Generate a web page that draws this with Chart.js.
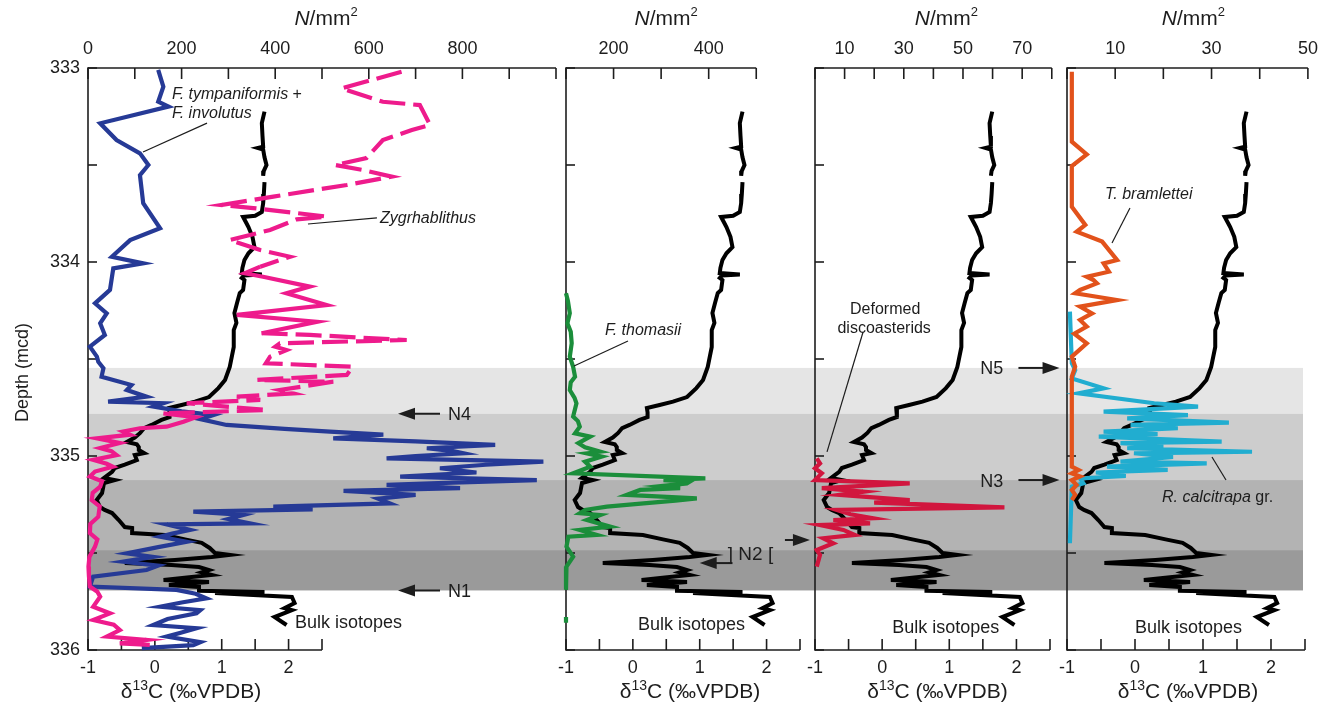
<!DOCTYPE html>
<html>
<head>
<meta charset="utf-8">
<script src="https://cdn.jsdelivr.net/npm/chart.js@4.4.1/dist/chart.umd.min.js"></script>
<style>
  body { margin: 0; background: #fff; }
  #wrap { position: relative; width: 1326px; height: 710px; }
  #wrap canvas { position: absolute; left: 0; top: 0; }
</style>
</head>
<body>
<div id="wrap">
  <canvas id="p1" width="1326" height="710"></canvas>
  <canvas id="p2" width="1326" height="710"></canvas>
  <canvas id="p3" width="1326" height="710"></canvas>
  <canvas id="p4" width="1326" height="710"></canvas>
</div>
<script>
// depth axis (mcd) and d13C axis
var depthTicks = [333, 333.5, 334, 334.5, 335, 335.5, 336];
var d13cTicks = [-1, -0.5, 0, 0.5, 1, 1.5, 2, 2.5];
var d13cLabels = [-1, 0, 1, 2];

// N/mm2 axes of the four panels
var topTicks1 = [0, 100, 200, 300, 400, 500, 600, 700, 800, 900, 1000];
var topLabels1 = [0, 200, 400, 600, 800];
var topTicks2 = [100, 200, 300, 400, 500];
var topLabels2 = [200, 400];
var topTicks3 = [0, 10, 20, 30, 40, 50, 60, 70, 80];
var topLabels3 = [10, 30, 50, 70];
var topTicks4 = [0, 10, 20, 30, 40, 50];
var topLabels4 = [10, 30, 50];

// shaded intervals N5..N1
var bandEdges = [334.546, 334.782, 335.124, 335.485, 335.693];
var bandGreys = ['#e5e5e5', '#cdcdcd', '#b3b3b3', '#9a9a9a'];

// bulk carbonate isotopes (null = gap in the record)
var bulkDepth = [333.225, 333.284, 333.35, 333.405, 333.412, 333.42, 333.46, 333.5, 333.53, 333.555, 333.57,
  333.588, 333.65, 333.696, 333.742, 333.762, 333.768, 333.8, 333.82, 333.87, 333.923, 333.955, 333.99,
  334.03, 334.057, 334.065, 334.07, 334.082, 334.093, 334.144, 334.16, 334.21, 334.263, 334.314, 334.351,
  334.438, 334.541, 334.608, 334.65, 334.696, 334.72, 334.737, 334.753, 334.775, 334.799, 334.814, 334.84,
  334.856, 334.881, 334.905, 334.928, 334.94, 334.954, 334.969, 334.985, 334.995, 335.021, 335.045, 335.062,
  335.082, 335.113, 335.124, 335.139, 335.191, 335.227, 335.263, 335.278, 335.294, 335.33, 335.366, 335.371,
  335.397, 335.407, 335.43, 335.448, 335.474, 335.5, 335.51, 335.521, 335.536, 335.552, 335.562, 335.572,
  335.588, 335.6, 335.613, 335.624, 335.639, 335.645, 335.649, 335.665, 335.675, 335.695, 335.701, 335.706,
  335.715, 335.727, 335.758, 335.784, 335.794, 335.83, 335.871];
var bulkD13C = [1.64, 1.60, 1.61, 1.62, 1.54, 1.62, 1.64, 1.67, 1.63, 1.62, null,
  1.64, 1.63, 1.62, 1.60, 1.50, 1.32, 1.37, 1.40, 1.46, 1.49, 1.40, 1.34,
  1.31, 1.30, 1.60, 1.33, 1.30, 1.34, 1.32, 1.27, 1.23, 1.19, 1.22, 1.18,
  1.18, 1.12, 1.05, 0.95, 0.81, 0.60, 0.40, 0.21, 0.22, 0.22, 0.10, -0.05,
  -0.16, -0.22, -0.30, -0.42, -0.27, -0.24, -0.24, -0.16, -0.30, -0.27, -0.45, -0.60,
  -0.64, -0.76, -0.60, -0.76, -0.79, -0.87, -0.82, -0.75, -0.64, -0.54, -0.45, -0.34,
  -0.34, 0.15, 0.45, 0.70, 0.82, 0.90, 1.12, 0.85, 0.30, -0.45, 0.25, 0.66,
  0.81, 0.70, 0.85, 0.55, 0.13, 0.60, 0.81, 0.21, 0.66, 0.66, 1.64, 0.90,
  1.40, 2.05, 2.09, 1.94, 2.05, 1.79, 1.97];

// F. tympaniformis + F. involutus (N/mm2)
var tympDepth = [333.01, 333.096, 333.174, 333.199, 333.285, 333.371, 333.44, 333.5, 333.552, 333.697, 333.826,
  333.887, 333.973, 334.007, 334.033, 334.144, 334.213, 334.265, 334.316, 334.376, 334.436, 334.488, 334.514,
  334.548, 334.591, 334.634, 334.66, 334.694, 334.72, 334.728, 334.745, 334.77, 334.789, 334.81, 334.84,
  334.86, 334.874, 334.89, 334.909, 334.925, 334.943, 334.96, 334.975, 334.986, 335.0, 335.012, 335.029,
  335.045, 335.063, 335.085, 335.106, 335.124, 335.137, 335.149, 335.166, 335.18, 335.2, 335.22, 335.244,
  335.261, 335.275, 335.287, 335.304, 335.325, 335.347, 335.352, 335.381, 335.4, 335.416, 335.442, 335.47,
  335.502, 335.52, 335.545, 335.565, 335.588, 335.622, 335.673, 335.69, 335.71, 335.734, 335.755, 335.777,
  335.795, 335.811, 335.84, 335.871, 335.888, 335.91, 335.931, 335.96, 335.975, 335.99];
var tympCount = [150, 161, 150, 172, 26, 61, 111, 129, 111, 118, 154,
  90, 51, 118, 54, 47, 15, 40, 26, 36, 4, 19, 22,
  33, 29, 93, 83, 125, 43, 161, 140, 200, 268, 240, 296,
  420, 517, 631, 524, 700, 870, 724, 780, 802, 700, 638, 973,
  850, 752, 830, 667, 959, 780, 638, 795, 546, 700, 620, 645,
  396, 480, 225, 332, 300, 346, 168, 218, 180, 154, 211, 150,
  83, 139, 75, 150, 125, 11, 4, 189, 230, 253, 200, 154,
  240, 232, 170, 139, 232, 200, 168, 240, 225, 115];

// Zygrhablithus (N/mm2)
var zygDepth = [333.019, 333.105, 333.174, 333.191, 333.294, 333.32, 333.371, 333.464, 333.5, 333.526, 333.56,
  333.603, 333.663, 333.706, 333.722, 333.748, 333.766, 333.78, 333.835, 333.887, 333.938, 333.973, 334.024,
  334.058, 334.076, 334.127, 334.161, 334.222, 334.273, 334.308, 334.367, 334.376, 334.402, 334.419, 334.437,
  334.454, 334.488, 334.522, 334.54, 334.582, 334.608, 334.617, 334.66, 334.677, 334.694, 334.711, 334.728,
  334.763, 334.78, 334.8, 334.823, 334.849, 334.857, 334.874, 334.89, 334.909, 334.933, 334.959, 334.975,
  334.995, 335.02, 335.04, 335.055, 335.08, 335.106, 335.13, 335.158, 335.19, 335.227, 335.26, 335.313,
  335.35, 335.397, 335.43, 335.467, 335.52, 335.57, 335.62, 335.673, 335.7, 335.725, 335.777, 335.811,
  335.845, 335.87, 335.897, 335.931, 335.948, 335.966, 335.974];
var zygCount = [670, 542, 630, 709, 731, 692, 630, 595, 528, 588, 649,
  553, 396, 286, 353, 446, 510, 446, 389, 303, 368, 432, 368,
  335, 374, 474, 424, 510, 318, 489, 371, 474, 681, 410, 400,
  424, 389, 380, 566, 553, 361, 524, 410, 438, 318, 368, 211,
  382, 161, 230, 204, 168, 111, 75, 90, 19, 68, 26, 50,
  61, 11, 40, 53, 15, 4, 30, 26, 10, 8, 25, 22,
  5, 4, 20, 15, 3, 1, 2, 4, 20, 26, 11, 47,
  11, 55, 68, 40, 125, 68, 132];

// F. thomasii (N/mm2)
var thomDepth = [334.161, 334.2, 334.264, 334.316, 334.36, 334.419, 334.488, 334.54, 334.591, 334.62, 334.66,
  334.7, 334.728, 334.797, 334.82, 334.849, 334.883, 334.9, 334.934, 334.955, 334.978, 334.986, 335.003,
  335.029, 335.055, 335.089, 335.115, 335.124, 335.132, 335.141, 335.155, 335.166, 335.175, 335.2, 335.218,
  335.23, 335.244, 335.261, 335.278, 335.295, 335.304, 335.33, 335.364, 335.381, 335.407, 335.416, 335.467,
  335.519, 335.57, 335.69, 335.76, 335.83, 335.86];
var thomCount = [100, 104, 108, 103, 110, 112, 108, 115, 119, 110, 108,
  118, 122, 115, 125, 129, 119, 151, 126, 140, 172, 144, 175,
  140, 151, 115, 393, 305, 360, 354, 300, 340, 256, 228, 375,
  330, 263, 186, 140, 129, 172, 144, 193, 129, 165, 105, 101,
  115, 101, 100, null, 100, 100];

// deformed discoasterids (N/mm2)
var deformDepth = [335.012, 335.038, 335.063, 335.089, 335.124, 335.141, 335.166, 335.184, 335.2, 335.227, 335.24,
  335.265, 335.278, 335.3, 335.321, 335.33, 335.347, 335.356, 335.381, 335.407, 335.424, 335.45, 335.485,
  335.51, 335.57];
var deformCount = [0.6, 1.7, 0, 2.3, 0, 32, 2.3, 16.3, 8.4, 32, 20,
  64, 7.3, 12, 19.7, 6.2, 18.6, 1.7, 9.6, 13.5, 2.8, 6.2, 0.6,
  1.7, 0.6];

// T. bramlettei (N/mm2)
var bramDepth = [333.019, 333.38, 333.445, 333.505, 333.715, 333.809, 333.844, 333.895, 333.99, 334.007, 334.05,
  334.076, 334.093, 334.11, 334.144, 334.161, 334.196, 334.23, 334.265, 334.299, 334.333, 334.37, 334.419,
  334.488, 334.54, 334.591, 335.055, 335.072, 335.09, 335.105, 335.124, 335.149, 335.175, 335.2, 335.227];
var bramCount = [1, 1, 4.1, 1, 1, 3.8, 2, 7.3, 10.4, 7.6, 8.7,
  4.1, 5.5, 6.2, 2.7, 1.7, 10.4, 2.7, 5.2, 2.7, 4.1, 1.5, 4.1,
  1, 1.7, 1, 1, 2.4, 1, 2.7, 1, 2.0, 1, 1.7, 1];

// R. calcitrapa gr. (N/mm2)
var calcDepth = [334.256, 334.522, 334.557, 334.6, 334.651, 334.677, 334.728, 334.745, 334.771, 334.789, 334.806,
  334.828, 334.84, 334.857, 334.874, 334.887, 334.9, 334.926, 334.934, 334.945, 334.96, 334.978, 334.986,
  335.005, 335.029, 335.038, 335.055, 335.072, 335.085, 335.103, 335.115, 335.141, 335.158, 335.45];
var calcCount = [0.6, 1, 1.7, 1, 7.6, 2.4, 18.1, 27.2, 7.6, 25.1, 12.5,
  33.6, 13.2, 23, 7.6, 18.8, 6.6, 32.1, 11.1, 20, 12.5, 38.4, 13.9,
  22, 11.1, 29, 8.3, 20.9, 6, 12.2, 2.7, 3.4, 1, 0.6];

var FONT = '"Liberation Sans", Arial, Helvetica, sans-serif';
var INK = '#1d1d1d';
var AXIS_BAND = 36;   // room kept for the tick labels above and below the plot

function pts(depths, vals) {
  return depths.map(function (d, i) { return { x: vals[i], y: d }; });
}
function fnt(size, italic) { return (italic ? 'italic ' : '') + size + 'px ' + FONT; }

// parts: [text, size, italic, rise]
function rich(ctx, x, y, parts, align) {
  var w = 0;
  parts.forEach(function (p) { ctx.font = fnt(p[1], p[2]); w += ctx.measureText(p[0]).width; });
  var cx = align === 'center' ? x - w / 2 : (align === 'right' ? x - w : x);
  ctx.textAlign = 'left';
  ctx.textBaseline = 'alphabetic';
  parts.forEach(function (p) {
    ctx.font = fnt(p[1], p[2]);
    ctx.fillText(p[0], cx, y - (p[3] || 0));
    cx += ctx.measureText(p[0]).width;
  });
}
function seg(ctx, x0, y0, x1, y1) {
  ctx.beginPath(); ctx.moveTo(x0, y0); ctx.lineTo(x1, y1); ctx.stroke();
}
function arrow(ctx, x0, y, x1) {
  var dir = x1 > x0 ? 1 : -1;
  ctx.lineWidth = 2;
  seg(ctx, x0, y, x1 - dir * 10, y);
  ctx.beginPath();
  ctx.moveTo(x1, y); ctx.lineTo(x1 - dir * 17, y - 6); ctx.lineTo(x1 - dir * 17, y + 6);
  ctx.closePath(); ctx.fill();
}

var panelDecor = {
  id: 'panelDecor',
  beforeDatasetsDraw: function (chart, args, o) {
    var ctx = chart.ctx, a = chart.chartArea;
    var sx = chart.scales.x, st = chart.scales.xTop, sy = chart.scales.y;
    ctx.save();
    if (o.bandRight) {
      for (var i = 0; i < bandGreys.length; i++) {
        var y0 = sy.getPixelForValue(bandEdges[i]), y1 = sy.getPixelForValue(bandEdges[i + 1]);
        ctx.fillStyle = bandGreys[i];
        ctx.fillRect(a.left, y0, o.bandRight - a.left, y1 - y0);
      }
    }
    ctx.strokeStyle = INK;
    ctx.lineWidth = 1.6;
    var topEnd = st.getPixelForValue(st.ticks[st.ticks.length - 1].value);
    var botEnd = sx.getPixelForValue(sx.ticks[sx.ticks.length - 1].value);
    seg(ctx, a.left, a.top - 0.8, a.left, a.bottom + 0.8);
    seg(ctx, a.left, a.top, topEnd, a.top);
    seg(ctx, a.left, a.bottom, botEnd, a.bottom);
    sy.ticks.forEach(function (t) { var p = sy.getPixelForValue(t.value); seg(ctx, a.left, p, a.left + 9, p); });
    st.ticks.forEach(function (t) { var p = st.getPixelForValue(t.value); seg(ctx, p, a.top, p, a.top + 11); });
    sx.ticks.forEach(function (t) { var p = sx.getPixelForValue(t.value); seg(ctx, p, a.bottom, p, a.bottom - 11); });
    ctx.restore();
  },
  afterDraw: function (chart, args, o) {
    var ctx = chart.ctx, a = chart.chartArea;
    var sx = chart.scales.x, st = chart.scales.xTop, sy = chart.scales.y;
    ctx.save();
    ctx.fillStyle = INK;
    ctx.strokeStyle = INK;
    var topEnd = st.getPixelForValue(st.ticks[st.ticks.length - 1].value);
    var botEnd = sx.getPixelForValue(sx.ticks[sx.ticks.length - 1].value);
    rich(ctx, (a.left + topEnd) / 2 + o.topShift, 25,
      [['N', 21, true], ['/mm', 21, false], ['2', 13, false, 9]], 'center');
    rich(ctx, (a.left + botEnd) / 2 + o.botShift, 698,
      [['\u03b4', 21, false], ['13', 14, false, 8], ['C (\u2030VPDB)', 21, false]], 'center');
    if (o.depthTitle) {
      ctx.translate(28, sy.getPixelForValue(334.57));
      ctx.rotate(-Math.PI / 2);
      rich(ctx, 0, 0, [['Depth (mcd)', 18, false]], 'center');
      ctx.setTransform(1, 0, 0, 1, 0, 0);
    }
    (o.notes || []).forEach(function (n) {
      var px = sx.getPixelForValue(n.x), py = sy.getPixelForValue(n.y);
      if (n.text) {
        rich(ctx, px, py + n.text[0][1] * 0.36, n.text, n.align || 'left');
      } else if (n.to) {
        ctx.lineWidth = 1.2;
        seg(ctx, px, py, sx.getPixelForValue(n.to[0]), sy.getPixelForValue(n.to[1]));
      } else if (n.arrowTo !== undefined) {
        arrow(ctx, px, py, sx.getPixelForValue(n.arrowTo));
      }
    });
    ctx.restore();
  }
};

function makePanel(id, cfg) {
  var tickFont = { family: FONT, size: 18 };
  var yWidth = cfg.depthLabels ? 44 : 0;
  return new Chart(document.getElementById(id), {
    type: 'line',
    data: { datasets: cfg.datasets },
    plugins: [panelDecor],
    options: {
      responsive: false,
      animation: false,
      devicePixelRatio: 1,
      layout: { padding: { left: cfg.left - yWidth, right: 1326 - cfg.right, top: 68 - AXIS_BAND, bottom: 60 - AXIS_BAND } },
      elements: {
        point: { radius: 0, hoverRadius: 0 },
        line: { tension: 0, borderCapStyle: 'butt', borderJoinStyle: 'miter' }
      },
      plugins: {
        legend: { display: false },
        tooltip: { enabled: false },
        panelDecor: {
          bandRight: cfg.bandRight, notes: cfg.notes, depthTitle: cfg.depthLabels,
          topShift: cfg.topShift, botShift: cfg.botShift
        }
      },
      scales: {
        y: {
          type: 'linear', position: 'left', reverse: true, min: 333, max: 336,
          grid: { display: false, drawTicks: false }, border: { display: false },
          afterBuildTicks: function (s) { s.ticks = depthTicks.map(function (v) { return { value: v }; }); },
          afterFit: function (s) { s.width = yWidth; s.paddingTop = 0; s.paddingBottom = 0; },
          ticks: {
            autoSkip: false, padding: 8, color: INK, font: tickFont,
            callback: function (v) { return cfg.depthLabels && Number.isInteger(v) ? String(v) : ''; }
          }
        },
        x: {
          type: 'linear', position: 'bottom', min: -1, max: cfg.xMax,
          grid: { display: false, drawTicks: false }, border: { display: false },
          afterBuildTicks: function (s) { s.ticks = d13cTicks.map(function (v) { return { value: v }; }); },
          afterFit: function (s) { s.height = AXIS_BAND; s.paddingLeft = 0; s.paddingRight = 0; },
          ticks: {
            autoSkip: false, maxRotation: 0, padding: 7, color: INK, font: tickFont,
            callback: function (v) { return d13cLabels.indexOf(v) >= 0 ? String(v) : ''; }
          }
        },
        xTop: {
          type: 'linear', position: 'top', min: cfg.topMin, max: cfg.topMax,
          grid: { display: false, drawTicks: false }, border: { display: false },
          afterBuildTicks: function (s) { s.ticks = cfg.topTicks.map(function (v) { return { value: v }; }); },
          afterFit: function (s) { s.height = AXIS_BAND; s.paddingLeft = 0; s.paddingRight = 0; },
          ticks: {
            autoSkip: false, maxRotation: 0, padding: 8, color: INK, font: tickFont,
            callback: function (v) { return cfg.topLabels.indexOf(v) >= 0 ? String(v) : ''; }
          }
        }
      }
    }
  });
}

function bulkSet() {
  return { data: pts(bulkDepth, bulkD13C), xAxisID: 'x', borderColor: '#000', borderWidth: 4,
    spanGaps: false, clip: false, order: 10 };
}
function countSet(d, v, colour, extra) {
  var s = { data: pts(d, v), xAxisID: 'xTop', borderColor: colour, borderWidth: 4.2,
    spanGaps: false, clip: false, order: 1 };
  return Object.assign(s, extra || {});
}

// Zygrhablithus is dashed through the upper part of the section
function zygDash(c) {
  var d = c.p0.parsed.y;
  return (d < 333.99 || (d >= 334.36 && d < 334.78)) ? [26, 8] : undefined;
}

var bulkNote = function (x, y) { return { x: x, y: y, text: [['Bulk isotopes', 18, false]] }; };

makePanel('p1', {
  left: 88, right: 556, xMax: 6, topMin: 0, topMax: 1000,
  topTicks: topTicks1, topLabels: topLabels1, depthLabels: true,
  bandRight: 1303, topShift: 4, botShift: -14,
  datasets: [
    bulkSet(),
    countSet(tympDepth, tympCount, '#263a96', { order: 2 }),
    countSet(zygDepth, zygCount, '#ee1b8c', { order: 1, segment: { borderDash: zygDash } })
  ],
  notes: [
    { x: 0.256, y: 333.129, text: [['F. tympaniformis', 16, true], [' +', 16, false]] },
    { x: 0.256, y: 333.227, text: [['F. involutus', 16, true]] },
    { x: 0.78, y: 333.284, to: [-0.177, 333.433] },
    { x: 3.367, y: 333.768, text: [['Zygrhablithus', 16, true]] },
    { x: 3.322, y: 333.773, to: [2.29, 333.804] },
    { x: 4.265, y: 334.782, arrowTo: 3.637 },
    { x: 4.385, y: 334.782, text: [['N4', 18, false]] },
    { x: 4.265, y: 335.693, arrowTo: 3.637 },
    { x: 4.385, y: 335.693, text: [['N1', 18, false]] },
    bulkNote(2.096, 335.851)
  ]
});

makePanel('p2', {
  left: 566, right: 800, xMax: 2.5, topMin: 100, topMax: 592,
  topTicks: topTicks2, topLabels: topLabels2, depthLabels: false,
  topShift: 5, botShift: 7,
  datasets: [bulkSet(), countSet(thomDepth, thomCount, '#1b8e3b')],
  notes: [
    { x: -0.417, y: 334.345, text: [['F. thomasii', 16, true]] },
    { x: -0.073, y: 334.407, to: [-0.88, 334.536] },
    { x: 1.42, y: 335.5, text: [['] N2 [', 19, false]] },
    { x: 1.49, y: 335.552, arrowTo: 1.0 },
    bulkNote(0.077, 335.861)
  ]
});

makePanel('p3', {
  left: 815, right: 1050, xMax: 2.5, topMin: 0, topMax: 79.4,
  topTicks: topTicks3, topLabels: topLabels3, depthLabels: false,
  topShift: 13, botShift: 5,
  datasets: [bulkSet(), countSet(deformDepth, deformCount, '#d1163e')],
  notes: [
    { x: 0.045, y: 334.237, text: [['Deformed', 16, false]], align: 'center' },
    { x: 0.03, y: 334.335, text: [['discoasterids', 16, false]], align: 'center' },
    { x: -0.284, y: 334.361, to: [-0.821, 334.979] },
    { x: 1.463, y: 334.546, text: [['N5', 18, false]] },
    { x: 2.03, y: 334.546, arrowTo: 2.642 },
    { x: 1.463, y: 335.124, text: [['N3', 18, false]] },
    { x: 2.03, y: 335.124, arrowTo: 2.642 },
    { x: -1.448, y: 335.433, arrowTo: -1.075 },
    bulkNote(0.149, 335.881)
  ]
});

makePanel('p4', {
  left: 1067, right: 1305, xMax: 2.5, topMin: 0, topMax: 49.4,
  topTicks: topTicks4, topLabels: topLabels4, depthLabels: false,
  topShift: 6, botShift: 2,
  datasets: [
    bulkSet(),
    countSet(calcDepth, calcCount, '#21add0', { order: 2 }),
    countSet(bramDepth, bramCount, '#e2521b', { order: 1 })
  ],
  notes: [
    { x: -0.441, y: 333.644, text: [['T. bramlettei', 16, true]] },
    { x: -0.074, y: 333.722, to: [-0.338, 333.902] },
    { x: 0.397, y: 335.206, text: [['R. calcitrapa', 16, true], [' gr.', 16, false]] },
    { x: 1.132, y: 335.005, to: [1.338, 335.124] },
    bulkNote(0.0, 335.881)
  ]
});
</script>
</body>
</html>
